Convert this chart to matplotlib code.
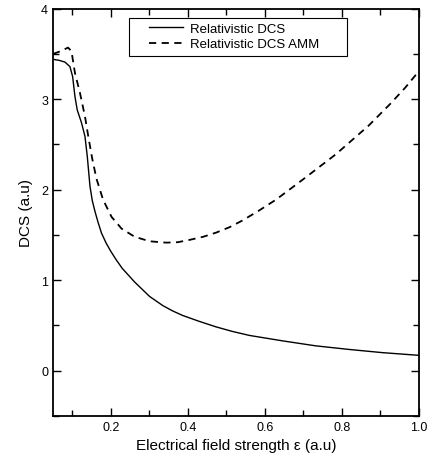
"""DCS versus electrical field strength, relativistic with and without AMM."""

import matplotlib

matplotlib.use("Agg")

import matplotlib.pyplot as plt
from matplotlib.patches import Rectangle
from matplotlib.ticker import MultipleLocator

plt.rcParams["font.family"] = ["Liberation Sans", "DejaVu Sans"]

# Relativistic DCS (solid)
eps_dcs = [0.050, 0.065, 0.081, 0.094, 0.101, 0.107, 0.113, 0.124, 0.133, 0.139,
           0.146, 0.152, 0.159, 0.167, 0.176, 0.188, 0.200, 0.215, 0.230, 0.262,
           0.301, 0.335, 0.361, 0.387, 0.430, 0.473, 0.515, 0.560, 0.646, 0.732,
           0.819, 0.905, 1.000]
dcs = [3.44, 3.43, 3.41, 3.36, 3.25, 3.03, 2.88, 2.74, 2.59, 2.37,
       2.04, 1.88, 1.76, 1.64, 1.52, 1.41, 1.32, 1.22, 1.13, 0.98,
       0.82, 0.72, 0.66, 0.61, 0.545, 0.485, 0.435, 0.39, 0.33, 0.275,
       0.235, 0.20, 0.17]

# Relativistic DCS with anomalous magnetic moment (dashed)
eps_amm = [0.050, 0.070, 0.089, 0.098, 0.107, 0.120, 0.133, 0.142, 0.152, 0.163,
           0.180, 0.202, 0.228, 0.262, 0.301, 0.344, 0.374, 0.404, 0.440, 0.473,
           0.508, 0.542, 0.585, 0.629, 0.698, 0.784, 0.870, 0.926, 0.965, 1.000]
dcs_amm = [3.50, 3.53, 3.57, 3.53, 3.29, 3.07, 2.81, 2.58, 2.34, 2.12,
           1.89, 1.70, 1.57, 1.48, 1.43, 1.415, 1.42, 1.445, 1.48, 1.525,
           1.585, 1.66, 1.77, 1.89, 2.11, 2.39, 2.71, 2.95, 3.13, 3.31]

fig = plt.figure(figsize=(4.29, 4.60), dpi=100)
ax = fig.add_axes([0.1235, 0.0935, 0.853, 0.8855])

ax.plot(eps_dcs, dcs, color="black", lw=1.0, solid_joinstyle="round",
        label="Relativistic DCS")
ax.plot(eps_amm, dcs_amm, color="black", lw=1.3, ls=(0, (4, 3)),
        label="Relativistic DCS AMM")

ax.set_xlim(0.05, 1.0)
ax.set_ylim(-0.5, 4)
ax.xaxis.set_major_locator(MultipleLocator(0.2))
ax.xaxis.set_minor_locator(MultipleLocator(0.1))
ax.yaxis.set_major_locator(MultipleLocator(1))
ax.yaxis.set_minor_locator(MultipleLocator(0.5))
ax.set_xticks([0.2, 0.4, 0.6, 0.8, 1.0])
ax.set_xticklabels(["0.2", "0.4", "0.6", "0.8", "1.0"])
ax.tick_params(which="both", direction="in", top=True, right=True, labelsize=9,
               width=1.0)
ax.tick_params(which="major", length=6)
ax.tick_params(which="minor", length=4)
for s in ax.spines.values():
    s.set_linewidth(1.3)

ax.set_xlabel("Electrical field strength \u03b5 (a.u)", fontsize=11, labelpad=4)
ax.set_ylabel("DCS (a.u)", fontsize=11, labelpad=6)

# legend without its own frame; the box is drawn to match the reference
ax.legend(loc="upper left", bbox_to_anchor=(0.255, 0.972), fontsize=9.5,
          frameon=False, handlelength=2.6, handletextpad=0.5,
          labelspacing=0.25, borderpad=0.2, borderaxespad=0)
ax.add_patch(Rectangle((0.2077, 0.884), 0.5945, 0.093, transform=ax.transAxes,
                       fill=False, edgecolor="black", lw=0.8, zorder=5))

fig.savefig("out.png", dpi=100)
